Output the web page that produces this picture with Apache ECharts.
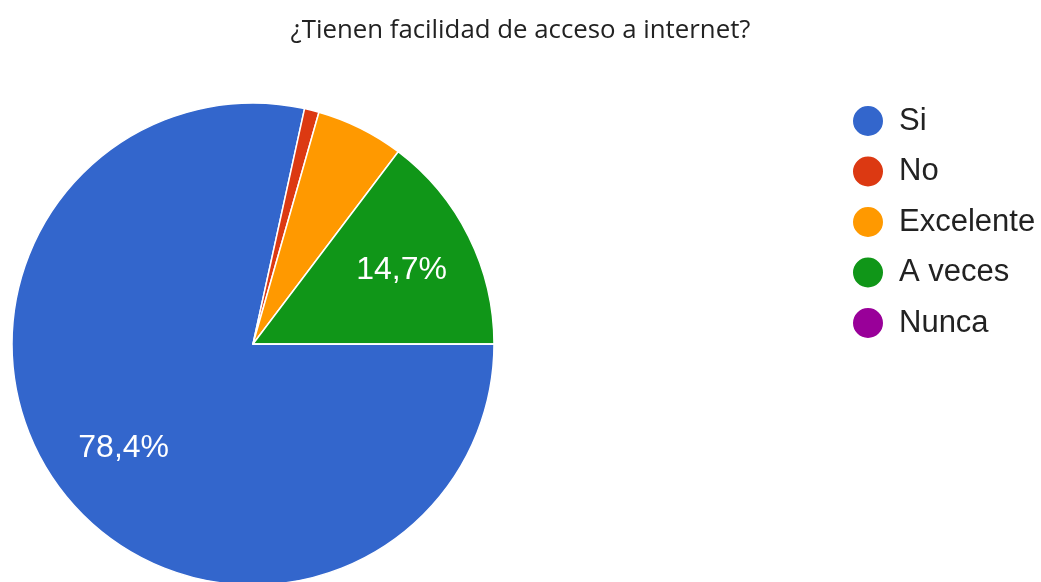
<!DOCTYPE html>
<html>
<head>
<meta charset="utf-8">
<script src="https://cdn.jsdelivr.net/npm/echarts@6/dist/echarts.min.js"></script>
<style>
html,body{margin:0;padding:0;background:#fff;}
#chart{width:1041px;height:582px;}
</style>
</head>
<body>
<div id="chart"></div>
<script>
const categories = ['Si', 'No', 'Excelente', 'A veces', 'Nunca'];
const counts = [80, 1, 6, 15, 0];
const colors = ['#3366cc', '#dc3912', '#ff9900', '#109618', '#990099'];
const titleText = '¿Tienen facilidad de acceso a internet?';

const data = categories.map((c, i) => ({ name: c, value: counts[i] }));
const chart = echarts.init(document.getElementById('chart'));
chart.setOption({
  animation: false,
  color: colors,
  title: {
    text: titleText,
    left: 'center',
    top: 13,
    textStyle: { fontFamily: 'Open Sans', fontWeight: 'normal', fontSize: 25.8, color: '#222' }
  },
  legend: {
    orient: 'vertical',
    left: 846,
    top: 99,
    icon: 'circle',
    itemWidth: 32,
    itemHeight: 32,
    itemGap: 16.5,
    data: categories,
    textStyle: { fontFamily: 'Arial', fontSize: 31, color: '#222', padding: [0, 0, 0, 10] }
  },
  series: [
    {
      type: 'pie',
      center: [253, 344],
      radius: [0, 241],
      startAngle: 0,
      clockwise: true,
      avoidLabelOverlap: false,
      silent: true,
      data: data,
      itemStyle: { borderColor: '#fff', borderWidth: 1.5 },
      label: { show: false },
      labelLine: { show: false }
    },
    {
      type: 'pie',
      center: [253, 344],
      radius: [86, 240],
      startAngle: 0,
      clockwise: true,
      silent: true,
      avoidLabelOverlap: false,
      percentPrecision: 1,
      data: data,
      itemStyle: { color: 'rgba(0,0,0,0)', borderWidth: 0 },
      label: {
        show: true,
        position: 'inside',
        color: '#fff',
        fontFamily: 'Arial',
        fontSize: 32,
        formatter: p => p.percent >= 10 ? String(p.percent.toFixed(1)).replace('.', ',') + '%' : ''
      },
      labelLine: { show: false }
    }
  ]
});
</script>
</body>
</html>
